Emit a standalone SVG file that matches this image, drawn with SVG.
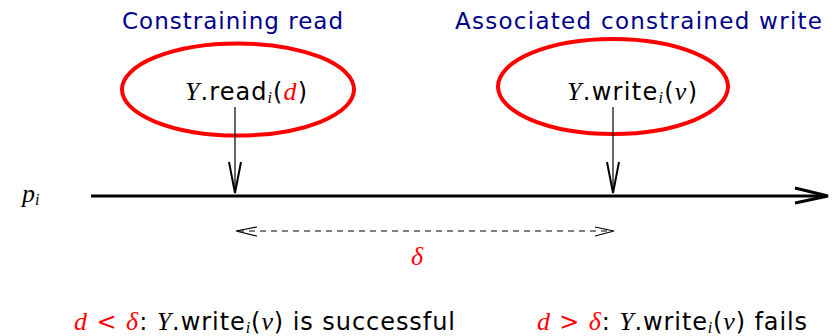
<svg xmlns="http://www.w3.org/2000/svg" width="832" height="336" viewBox="0 0 832 336">
<style>
.title{font-family:"DejaVu Sans",sans-serif;font-size:23px;fill:#00008b}
.lbl{font-family:"DejaVu Sans",sans-serif;font-size:24px;fill:#000}
.m{font-family:"Liberation Serif","DejaVu Serif",serif;font-style:italic;font-size:26px}
.r{fill:#ff0000}
.sub{font-size:16px}
.ell{fill:none;stroke:#ff0000;stroke-width:4}
.thin{stroke:#000;stroke-width:1.2;fill:none}
.head{stroke:#000;stroke-width:2;fill:none}
</style>
<rect width="832" height="336" fill="#fff"/>
<g id="title-read"><text class="title" x="122" y="29" textLength="221" lengthAdjust="spacing">Constraining read</text></g>
<g id="title-write"><text class="title" x="455" y="29" textLength="367" lengthAdjust="spacing">Associated constrained write</text></g>
<g id="node-read">
<ellipse class="ell" cx="238" cy="89.5" rx="116" ry="46"/>
<text class="lbl" x="185" y="100" textLength="122" lengthAdjust="spacing"><tspan class="m">Y</tspan>.read<tspan class="m sub" dy="3">i</tspan><tspan dy="-3">(</tspan><tspan class="m r">d</tspan>)</text>
</g>
<g id="node-write">
<ellipse class="ell" cx="613" cy="86.5" rx="115" ry="47.5"/>
<text class="lbl" x="567" y="100" textLength="130" lengthAdjust="spacing"><tspan class="m">Y</tspan>.write<tspan class="m sub" dy="3">i</tspan><tspan dy="-3">(</tspan><tspan class="m">v</tspan>)</text>
</g>
<g id="process">
<text class="lbl m" x="22" y="202">p<tspan class="sub" dy="3">i</tspan></text>
</g>
<g id="connectors">
<line x1="91" y1="196" x2="827" y2="196" stroke="#000" stroke-width="3"/>
<polyline points="795,188 828,196 795,203" fill="none" stroke="#000" stroke-width="3"/>
<line class="thin" x1="235" y1="107" x2="235" y2="193"/>
<polyline class="head" points="229,162 235,193 241,162"/>
<line class="thin" x1="613" y1="107" x2="613" y2="193"/>
<polyline class="head" points="607,162 613,193 619,162"/>
<line x1="238" y1="231" x2="612" y2="231" stroke="#000" stroke-width="1.2" stroke-dasharray="6,5"/>
<polyline points="257,227 236,231 257,236" fill="none" stroke="#000" stroke-width="1.2"/>
<polyline points="595,227 614,231 595,236" fill="none" stroke="#000" stroke-width="1.2"/>
</g>
<g id="delta"><text class="lbl m r" x="411" y="265">δ</text></g>
<g id="cond-success"><text class="lbl" x="74" y="330" textLength="381" lengthAdjust="spacing"><tspan class="m r">d</tspan><tspan class="r"> &lt; </tspan><tspan class="m r">δ</tspan>:  <tspan class="m">Y</tspan>.write<tspan class="m sub" dy="3">i</tspan><tspan dy="-3">(</tspan><tspan class="m">v</tspan>)  is successful</text></g>
<g id="cond-fail"><text class="lbl" x="537" y="330" textLength="270" lengthAdjust="spacing"><tspan class="m r">d</tspan><tspan class="r"> &gt; </tspan><tspan class="m r">δ</tspan>:  <tspan class="m">Y</tspan>.write<tspan class="m sub" dy="3">i</tspan><tspan dy="-3">(</tspan><tspan class="m">v</tspan>)  fails</text></g>
</svg>
